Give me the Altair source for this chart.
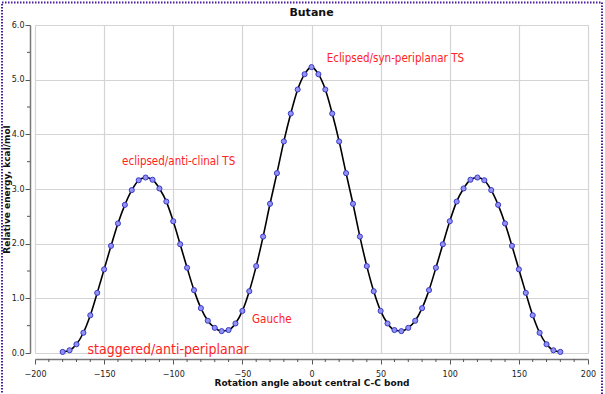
import altair as alt
import pandas as pd

# Rotation angle (degrees) and relative energy (kcal/mol)
angles = [-180, -175, -170, -165, -160, -155, -150, -145, -140, -135, -130, -125,
          -120, -115, -110, -105, -100, -95, -90, -85, -80, -75, -70, -65, -60,
          -55, -50, -45, -40, -35, -30, -25, -20, -15, -10, -5, 0,
          5, 10, 15, 20, 25, 30, 35, 40, 45, 50, 55, 60, 65, 70, 75, 80, 85,
          90, 95, 100, 105, 110, 115, 120, 125, 130, 135, 140, 145, 150, 155,
          160, 165, 170, 175, 180]
energies = [0.02, 0.05, 0.16, 0.37, 0.69, 1.10, 1.53, 1.96, 2.37, 2.71, 2.98, 3.16,
            3.21, 3.17, 3.01, 2.77, 2.41, 1.99, 1.56, 1.15, 0.82, 0.59, 0.46, 0.40, 0.42,
            0.54, 0.77, 1.13, 1.59, 2.13, 2.73, 3.29, 3.87, 4.38, 4.82, 5.10, 5.23,
            5.10, 4.82, 4.38, 3.87, 3.29, 2.73, 2.13, 1.59, 1.13, 0.77, 0.54, 0.42, 0.40,
            0.46, 0.59, 0.82, 1.15, 1.56, 1.99, 2.41, 2.77, 3.01, 3.17, 3.21, 3.16, 2.98,
            2.71, 2.37, 1.96, 1.53, 1.10, 0.69, 0.37, 0.16, 0.05, 0.02]

labels = ["Eclipsed/syn-periplanar  TS", "eclipsed/anti-clinal TS", "Gauche",
          "staggered/anti-periplanar"]
label_x = [11, -137, -43, -162]
label_y = [5.32, 3.44, 0.55, -0.02]
label_size = [11.5, 11.5, 11.5, 14]

x_major = list(range(-200, 201, 50))
x_minor = [v for v in range(-200, 201, 10) if v % 50 != 0]
y_major = [0, 1, 2, 3, 4, 5, 6]
y_minor = [0.5, 1.5, 2.5, 3.5, 4.5, 5.5]

df = pd.DataFrame({"angle": angles, "energy": energies})
ann = pd.DataFrame({"x": label_x, "y": label_y, "text": labels, "size": label_size})
xm = pd.DataFrame({"v": x_minor})
ym = pd.DataFrame({"v": y_minor})

W, H = 553, 328
xscale = alt.Scale(domain=[-200, 200], nice=False, zero=False)
yscale = alt.Scale(domain=[0, 6], nice=False)

x_axis = alt.Axis(
    title="Rotation angle about central C-C bond",
    values=x_major, format="d",
    labelOverlap=False, labelFlush=False,
    tickSize=5, offset=6, labelPadding=6, titlePadding=0,
)
y_axis = alt.Axis(
    title="Relative energy, kcal/mol",
    values=y_major, format=".1f",
    labelOverlap=False, labelFlush=False,
    tickSize=5, offset=5, labelPadding=1, titlePadding=0,
)

line = alt.Chart(df).mark_line(color="black", strokeWidth=1.6, interpolate="monotone").encode(
    x=alt.X("angle:Q", scale=xscale, axis=x_axis),
    y=alt.Y("energy:Q", scale=yscale, axis=y_axis),
)
pts = alt.Chart(df).mark_point(shape="circle", filled=True, fill="#9292f4",
                               stroke="#3a3ac4", strokeWidth=1, size=26, opacity=1).encode(
    x=alt.X("angle:Q", scale=xscale),
    y=alt.Y("energy:Q", scale=yscale),
)
txt = alt.Chart(ann).mark_text(
    align="left", baseline="alphabetic", color="#ff2222",
    font="Liberation Sans Narrow, DejaVu Sans Condensed, sans-serif",
).encode(
    x=alt.X("x:Q", scale=xscale),
    y=alt.Y("y:Q", scale=yscale),
    text="text:N",
    size=alt.Size("size:Q", scale=None, legend=None),
)
xminor = alt.Chart(xm).mark_rule(color="#555", strokeWidth=1).encode(
    x=alt.X("v:Q", scale=xscale),
    y=alt.value(H + 6), y2=alt.value(H + 9),
)
yminor = alt.Chart(ym).mark_rule(color="#555", strokeWidth=1).encode(
    y=alt.Y("v:Q", scale=yscale),
    x=alt.value(-8), x2=alt.value(-5),
)
title = alt.Chart(pd.DataFrame({"t": ["Butane"]})).mark_text(
    font="DejaVu Sans", fontSize=11, fontWeight="bold", color="#111",
    align="center", baseline="alphabetic",
).encode(x=alt.value(W / 2), y=alt.value(-9), text="t:N")
frame = alt.Chart(pd.DataFrame({"a": [0]})).mark_rect(
    fill=None, stroke="#4b1d9a", strokeWidth=2, strokeDash=[1.5, 1.5]
).encode(
    x=alt.value(-33), x2=alt.value(567), y=alt.value(-22.5), y2=alt.value(420),
)

chart = alt.layer(line, pts, txt, xminor, yminor, title, frame).properties(
    width=W, height=H,
    autosize=alt.AutoSizeParams(type="none"),
    padding={"left": 35, "top": 25, "right": 17, "bottom": 41},
).configure_view(stroke=None).configure_axis(
    gridColor="#d4d4d4", gridWidth=1.2,
    domainColor="#777", domainWidth=1.5,
    tickColor="#555", tickWidth=1,
    labelFont="DejaVu Sans", labelFontSize=8, labelColor="#222",
    titleFont="DejaVu Sans", titleFontSize=9, titleFontWeight="bold", titleColor="#111",
)

chart.save("out.html", embed_options={"renderer": "svg", "actions": False})
